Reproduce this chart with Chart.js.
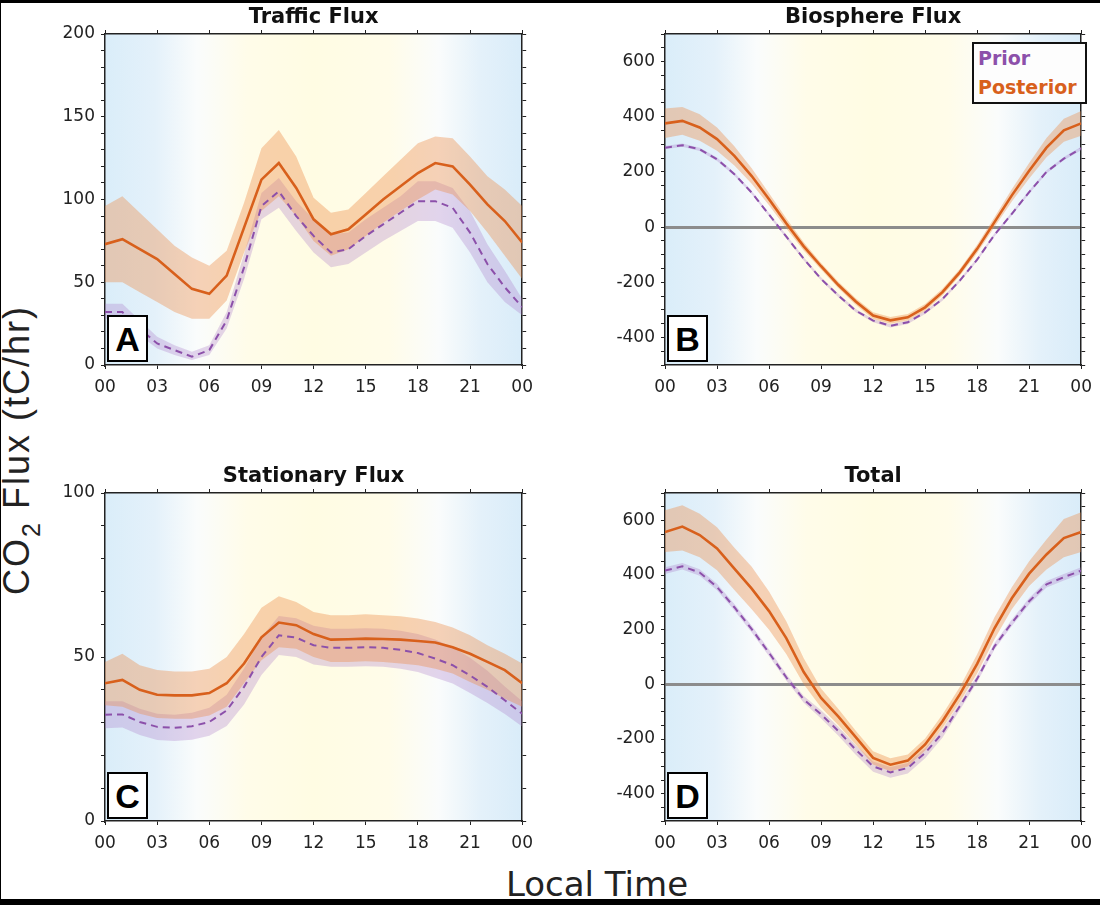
<!DOCTYPE html>
<html>
<head>
<meta charset="utf-8">
<title>CO2 Flux - diurnal cycle</title>
<script src="https://cdn.jsdelivr.net/npm/chart.js@4.4.1/dist/chart.umd.min.js"></script>
<style>
  html, body { margin: 0; padding: 0; background: #fff; }
  body { width: 1100px; height: 905px; position: relative; overflow: hidden;
         font-family: "DejaVu Sans", "Liberation Sans", Arial, sans-serif; color: #222; }
  .bar { position: absolute; background: #000; }
  canvas { position: absolute; }
  .tag { position: absolute; width: 37px; height: 43px; border: 2px solid #000; background: #fff;
         font-family: "Liberation Sans", Arial, sans-serif;
         font-weight: bold; font-size: 34px; line-height: 45px; text-align: center; color: #000; }
  .legend { position: absolute; left: 972px; top: 42px; width: 107px; padding: 0 0 0 4px;
            border: 2px solid #111; background: #fdfdfd; font-weight: bold; font-size: 19px; line-height: 29px; }
  .ylabel { position: absolute; left: -153px; top: 430px; width: 340px; height: 40px; line-height: 40px;
            font-family: "Liberation Sans", Arial, sans-serif;
            font-size: 36px; letter-spacing: 2px; text-align: center; transform: rotate(-90deg); white-space: nowrap; }
  .ylabel span { font-size: 25px; position: relative; top: 11px; }
  .xlabel { position: absolute; left: 397px; top: 866px; width: 400px; line-height: 36px;
            font-size: 34px; text-align: center; }
</style>
</head>
<body>
<div class="bar" style="left:0;top:0;width:1100px;height:3px"></div>
<div class="bar" style="left:0;top:899px;width:1100px;height:6px"></div>
<div class="bar" style="left:0;top:0;width:1px;height:905px"></div>

<canvas id="trafficChart" width="496" height="405" style="left:45px;top:0px"></canvas>
<canvas id="biosphereChart" width="495" height="405" style="left:605px;top:0px"></canvas>
<canvas id="stationaryChart" width="496" height="402" style="left:45px;top:459px"></canvas>
<canvas id="totalChart" width="495" height="402" style="left:605px;top:459px"></canvas>

<div class="tag" style="left:107px;top:315px">A</div>
<div class="tag" style="left:667px;top:315px">B</div>
<div class="tag" style="left:107px;top:772px">C</div>
<div class="tag" style="left:667px;top:772px">D</div>

<div class="legend">
  <div style="color:#8c50aa">Prior</div>
  <div style="color:#d8601c">Posterior</div>
</div>

<div class="ylabel">CO<span>2</span> Flux (tC/hr)</div>
<div class="xlabel">Local Time</div>

<script>
const hours = [0, 1, 2, 3, 4, 5, 6, 7, 8, 9, 10, 11, 12, 13, 14, 15, 16, 17, 18, 19, 20, 21, 22, 23, 24];

// A - traffic
const trafficPost   = [73, 76, 70, 64, 55, 46, 43, 54, 83, 112, 122, 107, 88, 79, 82, 91, 100, 108, 116, 122, 120, 109, 97, 87, 74];
const trafficPostHi = [96, 102, 92, 82, 72, 65, 60, 69, 98, 131, 142, 126, 101, 92, 94, 104, 114, 124, 134, 138, 137, 126, 114, 106, 96];
const trafficPostLo = [50, 50, 44, 38, 32, 28, 28, 39, 68, 93, 102, 90, 75, 66, 70, 78, 86, 93, 100, 106, 103, 93, 80, 66, 52];
const trafficPrior   = [32, 32, 22, 13, 9, 5, 9, 27, 59, 96, 105, 90, 78, 68, 70, 78, 85, 92, 99, 99, 95, 80, 61, 47, 35];
const trafficPriorHi = [37, 37, 27, 17, 12, 8, 12, 32, 67, 104, 113, 99, 88, 79, 80, 88, 95, 102, 111, 111, 107, 93, 73, 57, 40];
const trafficPriorLo = [28, 28, 18, 10, 6, 3, 6, 22, 52, 88, 95, 81, 68, 59, 61, 68, 75, 81, 87, 87, 83, 68, 50, 38, 30];

// B - biosphere
const bioPost   = [376, 385, 361, 319, 258, 185, 101, 13, -70, -142, -210, -270, -321, -338, -327, -291, -236, -164, -79, 18, 115, 204, 288, 351, 376];
const bioPostHi = [430, 435, 409, 361, 293, 213, 123, 31, -55, -130, -198, -258, -309, -326, -315, -279, -224, -152, -64, 36, 137, 232, 323, 393, 421];
const bioPostLo = [323, 335, 313, 277, 223, 157, 79, -5, -85, -154, -222, -282, -333, -350, -339, -303, -248, -176, -94, 0, 93, 176, 253, 309, 331];
const bioPrior   = [288, 297, 282, 246, 192, 125, 45, -35, -115, -188, -248, -303, -339, -358, -345, -309, -261, -194, -118, -28, 48, 127, 200, 248, 285];
const bioPriorHi = [294, 303, 288, 252, 198, 131, 51, -29, -109, -182, -242, -297, -333, -352, -339, -303, -255, -188, -112, -22, 54, 133, 206, 254, 291];
const bioPriorLo = [282, 291, 276, 240, 186, 119, 39, -41, -121, -194, -254, -309, -345, -364, -351, -315, -267, -200, -124, -34, 42, 121, 194, 242, 279];

// C - stationary
const statPost   = [42, 43, 40, 38.5, 38.3, 38.3, 39, 42, 48, 56, 60.5, 59.7, 57, 55.3, 55.4, 55.6, 55.5, 55.3, 54.9, 54.4, 53, 51, 48.5, 46, 42];
const statPostHi = [48.5, 51, 47.5, 46, 45.6, 45.6, 46.4, 50, 57, 65, 68.5, 66.8, 63.7, 62.7, 62.7, 63, 62.7, 62.4, 61.7, 60.7, 59, 56.6, 53.6, 51, 48];
const statPostLo = [35.3, 34.8, 32.7, 31.4, 31.2, 31.2, 32.2, 34.8, 42, 49, 53, 52.5, 50, 48.5, 48.5, 48.7, 48.5, 48, 47.5, 46.4, 45, 42.4, 40, 37.3, 34.8];
const statPrior   = [32.4, 32.5, 30.2, 28.7, 28.4, 28.9, 30.2, 33.7, 40.9, 50, 56.6, 55.9, 53.6, 52.8, 52.8, 53, 52.8, 52.2, 51.2, 49.5, 47.5, 44.4, 40.9, 36.8, 32.7];
const statPriorHi = [36.5, 36.5, 34.2, 32.7, 32.4, 33, 34.5, 38.5, 46.5, 56, 62.5, 61.8, 59.5, 58.6, 58.6, 58.8, 58.6, 58, 57, 55.3, 53, 49.8, 45.8, 41, 36.5];
const statPriorLo = [28.3, 28.5, 26.2, 24.7, 24.4, 24.8, 26, 29, 35.5, 44.5, 50.6, 50, 47.7, 47, 47, 47.2, 47, 46.4, 45.4, 43.7, 41.9, 39, 36, 32.6, 28.8];

// D - total
const totalPost   = [557, 577, 546, 497, 423, 350, 268, 168, 45, -50, -118, -193, -269, -294, -279, -220, -135, -37, 75, 205, 315, 405, 475, 535, 557];
const totalPostHi = [637, 655, 624, 575, 500, 430, 340, 230, 95, -15, -90, -170, -245, -270, -257, -198, -110, -10, 110, 245, 355, 450, 530, 605, 630];
const totalPostLo = [484, 490, 465, 417, 345, 275, 200, 110, 0, -85, -150, -220, -293, -318, -301, -242, -160, -65, 40, 165, 275, 360, 420, 465, 484];
const totalPrior   = [416, 432, 409, 356, 282, 202, 115, 25, -55, -110, -171, -239, -300, -322, -306, -251, -178, -80, 20, 139, 225, 304, 366, 392, 416];
const totalPriorHi = [428, 444, 421, 368, 294, 214, 127, 37, -43, -95, -155, -222, -282, -302, -288, -234, -163, -67, 32, 151, 237, 316, 378, 404, 428];
const totalPriorLo = [404, 420, 397, 344, 270, 190, 103, 13, -67, -125, -188, -258, -320, -342, -326, -270, -195, -94, 8, 127, 213, 292, 354, 380, 404];

const ORANGE = '#d8601c';
const PURPLE = '#8c50aa';
const ORANGE_BAND = 'rgba(236, 140, 70, 0.38)';
const PURPLE_BAND = 'rgba(170, 120, 200, 0.30)';
const INK = '#222';

Chart.defaults.font.family = '"DejaVu Sans", "Liberation Sans", Arial, sans-serif';
Chart.defaults.color = INK;

// night-day-night shading behind the curves
const dayShade = {
    id: 'dayShade',
    beforeDraw(chart) {
        const { ctx, chartArea: a } = chart;
        const g = ctx.createLinearGradient(a.left, 0, a.right, 0);
        g.addColorStop(0, '#daedf9');
        g.addColorStop(0.12, '#e4f1fa');
        g.addColorStop(0.22, '#fafcfc');
        g.addColorStop(0.34, '#fffce9');
        g.addColorStop(0.5, '#fffce3');
        g.addColorStop(0.68, '#fffce9');
        g.addColorStop(0.8, '#fafcfc');
        g.addColorStop(0.9, '#e4f1fa');
        g.addColorStop(1, '#d9ecf9');
        ctx.save();
        ctx.fillStyle = g;
        ctx.fillRect(a.left, a.top, a.width, a.height);
        ctx.restore();
    }
};

function series(values) {
    return hours.map((h, i) => ({ x: h, y: values[i] }));
}

function hourLabel(v) {
    return String(v % 24).padStart(2, '0');
}

function makePanel(canvasId, title, d, yMin, yMax, yStep, labelStep, zeroLine) {
    const isZero = c => c.tick && c.tick.value === 0;
    const ctx = document.getElementById(canvasId).getContext('2d');
    return new Chart(ctx, {
        type: 'line',
        data: {
            datasets: [{
                label: 'Posterior',
                data: series(d.post),
                borderColor: ORANGE,
                borderWidth: 2.6,
                pointRadius: 0,
                fill: false
            }, {
                label: 'Prior',
                data: series(d.prior),
                borderColor: PURPLE,
                borderWidth: 2,
                borderDash: [7, 5],
                pointRadius: 0,
                fill: false
            }, {
                label: 'Posterior low',
                data: series(d.postLo),
                borderWidth: 0,
                pointRadius: 0,
                fill: false
            }, {
                label: 'Posterior high',
                data: series(d.postHi),
                borderWidth: 0,
                pointRadius: 0,
                backgroundColor: ORANGE_BAND,
                fill: '-1'
            }, {
                label: 'Prior low',
                data: series(d.priorLo),
                borderWidth: 0,
                pointRadius: 0,
                fill: false
            }, {
                label: 'Prior high',
                data: series(d.priorHi),
                borderWidth: 0,
                pointRadius: 0,
                backgroundColor: PURPLE_BAND,
                fill: '-1'
            }]
        },
        options: {
            responsive: false,
            animation: false,
            events: [],
            layout: { padding: 0 },
            elements: { line: { tension: 0 } },
            plugins: {
                legend: { display: false },
                tooltip: { enabled: false },
                title: {
                    display: true,
                    fullSize: false,
                    text: title,
                    color: '#111',
                    font: { size: 21, weight: 'bold' },
                    padding: { top: 5, bottom: 0 }
                }
            },
            scales: {
                x: {
                    type: 'linear',
                    position: 'bottom',
                    min: 0,
                    max: 24,
                    afterFit: s => { s.height = 40; },
                    border: { display: true, color: INK, width: 1.5 },
                    grid: { drawOnChartArea: false, tickLength: 4, tickColor: INK, tickWidth: 1 },
                    ticks: { stepSize: 3, autoSkip: false, maxRotation: 0, padding: 8,
                             font: { size: 17 }, callback: hourLabel }
                },
                xTop: {
                    type: 'linear',
                    position: 'top',
                    min: 0,
                    max: 24,
                    afterFit: s => { s.height = 3.8; },
                    border: { display: true, color: INK, width: 1.5 },
                    grid: { drawOnChartArea: false, tickLength: 4, tickColor: INK, tickWidth: 1 },
                    ticks: { display: false, stepSize: 3 }
                },
                y: {
                    type: 'linear',
                    position: 'left',
                    min: yMin,
                    max: yMax,
                    afterFit: s => { s.width = 60; },
                    border: { display: true, color: INK, width: 1.5 },
                    grid: {
                        drawOnChartArea: zeroLine,
                        color: c => isZero(c) ? '#8c8c8c' : 'rgba(0,0,0,0)',
                        lineWidth: c => isZero(c) ? 3 : 1,
                        tickLength: 4,
                        tickColor: INK,
                        tickWidth: 1
                    },
                    ticks: { stepSize: yStep, autoSkip: false, padding: 6, font: { size: 17 },
                             callback: v => (v % labelStep === 0 ? v : '') }
                },
                yRight: {
                    type: 'linear',
                    position: 'right',
                    min: yMin,
                    max: yMax,
                    afterFit: s => { s.width = 11; },
                    border: { display: true, color: INK, width: 1.5 },
                    grid: { drawOnChartArea: false, tickLength: 4, tickColor: INK, tickWidth: 1 },
                    ticks: { display: false, stepSize: yStep, autoSkip: false }
                }
            }
        },
        plugins: [dayShade]
    });
}

makePanel('trafficChart', 'Traffic Flux', {
    post: trafficPost, postHi: trafficPostHi, postLo: trafficPostLo,
    prior: trafficPrior, priorHi: trafficPriorHi, priorLo: trafficPriorLo
}, 0, 200, 10, 50, false);

makePanel('biosphereChart', 'Biosphere Flux', {
    post: bioPost, postHi: bioPostHi, postLo: bioPostLo,
    prior: bioPrior, priorHi: bioPriorHi, priorLo: bioPriorLo
}, -500, 700, 50, 200, true);

makePanel('stationaryChart', 'Stationary Flux', {
    post: statPost, postHi: statPostHi, postLo: statPostLo,
    prior: statPrior, priorHi: statPriorHi, priorLo: statPriorLo
}, 0, 100, 10, 50, false);

makePanel('totalChart', 'Total', {
    post: totalPost, postHi: totalPostHi, postLo: totalPostLo,
    prior: totalPrior, priorHi: totalPriorHi, priorLo: totalPriorLo
}, -500, 700, 50, 200, true);
</script>
</body>
</html>
